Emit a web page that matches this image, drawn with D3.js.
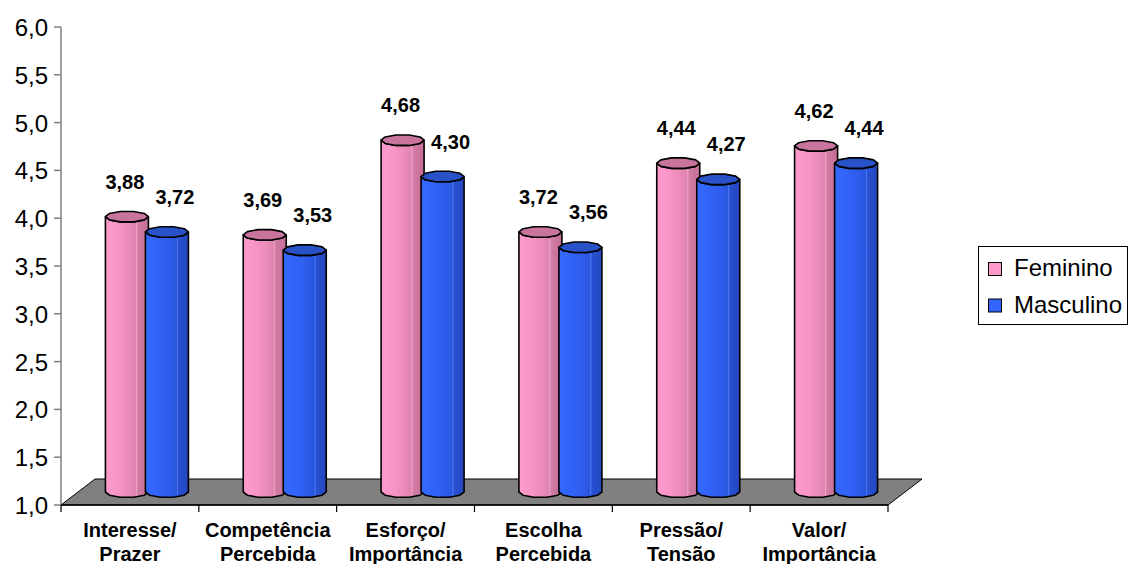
<!DOCTYPE html>
<html><head><meta charset="utf-8">
<script src="https://cdn.jsdelivr.net/npm/d3@7"></script>
<style>body{margin:0;background:#fff}svg{display:block}</style>
</head><body>
<svg id="c" width="1129" height="564"></svg>
<script>
const categories = [["Interesse/","Prazer"],["Competência","Percebida"],["Esforço/","Importância"],["Escolha","Percebida"],["Pressão/","Tensão"],["Valor/","Importância"]];
const seriesNames = ["Feminino","Masculino"];
const feminino = [3.88,3.69,4.68,3.72,4.44,4.62];
const masculino = [3.72,3.53,4.30,3.56,4.27,4.44];
const yTicks = [1.0,1.5,2.0,2.5,3.0,3.5,4.0,4.5,5.0,5.5,6.0];

const svg = d3.select("#c");
const font = "'Liberation Sans', Arial, sans-serif";
const catKeys = categories.map(c => c.join(" "));
const x = d3.scaleBand().domain(catKeys).range([61, 888]).padding(0);
const y = d3.scaleLinear().domain([1, 6]).range([505, 27]);
const sub = d3.scalePoint().domain(seriesNames).range([-20, 20]);
const depth = {dx: 34, dy: -26};
const mid = {dx: 17, dy: -13};
const barW = x.bandwidth() * 0.312;

// gradients
const defs = svg.append("defs");
const grads = {
  Feminino: [["0","#FF9BCC"],["0.3","#F895C6"],["0.55","#EA8BB9"],["0.7","#DE84B0"],["0.72","#F2A4CA"],["0.75","#D27DA6"],["1","#C46C96"]],
  Masculino: [["0","#3468FF"],["0.35","#3162F6"],["0.6","#2D5BE8"],["0.72","#2A56DC"],["0.74","#4A78F0"],["0.77","#2850D2"],["1","#2447BE"]]
};
const lidColor = {Feminino: "#C8749C", Masculino: "#2A52C8"};
const swatch = {Feminino: "#FF99CC", Masculino: "#3366FF"};
seriesNames.forEach(s => {
  const g = defs.append("linearGradient").attr("id", "g" + s).attr("x1", 0).attr("x2", 1).attr("y1", 0).attr("y2", 0);
  grads[s].forEach(([o, c]) => g.append("stop").attr("offset", o).attr("stop-color", c));
});

// floor
const fl = [[61,505],[888,505],[888+depth.dx,505+depth.dy],[61+depth.dx,505+depth.dy]];
svg.append("path").attr("d", "M" + fl.map(p => p.join(",")).join("L") + "Z")
  .attr("fill", "#808080").attr("stroke", "#000").attr("stroke-width", 1);

// y axis
svg.append("line").attr("x1", 61).attr("x2", 61).attr("y1", y(6)).attr("y2", y(1)).attr("stroke", "#808080").attr("stroke-width", 1.5);
yTicks.forEach(t => {
  svg.append("line").attr("x1", 54).attr("x2", 61).attr("y1", y(t)).attr("y2", y(t)).attr("stroke", "#808080").attr("stroke-width", 1.5);
  svg.append("text").attr("x", 48).attr("y", y(t) + 9).attr("text-anchor", "end")
    .attr("font-family", font).attr("font-size", 24).attr("fill", "#000")
    .text(d3.format(".1f")(t).replace(".", ","));
});

// x axis front edge + ticks
svg.append("line").attr("x1", 61).attr("x2", 888).attr("y1", 505).attr("y2", 505).attr("stroke", "#000").attr("stroke-width", 1.5);
catKeys.concat([null]).forEach((k, i) => {
  const xx = k === null ? 888 : x(k);
  svg.append("line").attr("x1", xx).attr("x2", xx).attr("y1", 505).attr("y2", 512).attr("stroke", "#000").attr("stroke-width", 1.2);
});

// category labels
categories.forEach((c, i) => {
  const cx = x(catKeys[i]) + x.bandwidth() / 2;
  c.forEach((line, j) => {
    svg.append("text").attr("x", cx).attr("y", 537 + j * 24).attr("text-anchor", "middle")
      .attr("font-family", font).attr("font-weight", "bold").attr("font-size", 20).attr("fill", "#000").text(line);
  });
});

// cylinders
const N = 10;
function ring(cx, cy, rx, ry) {
  const pts = [];
  for (let k = 0; k < N; k++) {
    const a = (k / N) * 2 * Math.PI;
    pts.push([cx + rx * Math.cos(a), cy + ry * Math.sin(a)]);
  }
  return pts; // k=0 right, k=N/2 left, k in (0,N/2) lower half
}
const rx = barW / 2, ry = 5.5;
const data = [];
categories.forEach((c, i) => {
  seriesNames.forEach(s => {
    const v = s === "Feminino" ? feminino[i] : masculino[i];
    data.push({cat: catKeys[i], s, v});
  });
});
data.forEach(d => {
  const cx = x(d.cat) + x.bandwidth() / 2 + sub(d.s) + mid.dx;
  const top = y(d.v) + mid.dy;
  const bot = y(1) + mid.dy;
  const tr = ring(cx, top, rx, ry), br = ring(cx, bot, rx, ry);
  // body: left top -> left bottom -> lower half bottom -> right bottom -> right top -> lower half top back
  let p = "M" + tr[N/2].join(",") + "L" + br[N/2].join(",");
  for (let k = N/2 - 1; k >= 0; k--) p += "L" + br[k].join(",");
  p += "L" + tr[0].join(",");
  for (let k = 1; k <= N/2; k++) p += "L" + tr[k].join(",");
  p += "Z";
  const g = svg.append("g");
  g.append("path").attr("d", p).attr("fill", "url(#g" + d.s + ")").attr("stroke", "#000").attr("stroke-width", 1.6).attr("stroke-linejoin", "round");
  g.append("path").attr("d", "M" + tr.map(q => q.join(",")).join("L") + "Z")
    .attr("fill", lidColor[d.s]).attr("stroke", "#000").attr("stroke-width", 1.6).attr("stroke-linejoin", "round");
  const lx = cx + (d.s === "Feminino" ? -2 : 8);
  svg.append("text").attr("x", lx).attr("y", top - 28).attr("text-anchor", "middle")
    .attr("font-family", font).attr("font-weight", "bold").attr("font-size", 20).attr("fill", "#000")
    .text(d3.format(".2f")(d.v).replace(".", ","));
});

// legend
const lg = svg.append("g");
lg.append("rect").attr("x", 978.5).attr("y", 246.5).attr("width", 149).attr("height", 78).attr("fill", "#fff").attr("stroke", "#000").attr("stroke-width", 1);
seriesNames.forEach((s, i) => {
  const yy = 262 + i * 36.5;
  lg.append("rect").attr("x", 988.5).attr("y", yy + 0.5).attr("width", 13).attr("height", 13).attr("fill", swatch[s]).attr("stroke", "#000").attr("stroke-width", 1);
  lg.append("text").attr("x", 1014).attr("y", yy + 14).attr("font-family", font).attr("font-size", 24).attr("fill", "#000").text(s);
});
</script>
</body></html>
